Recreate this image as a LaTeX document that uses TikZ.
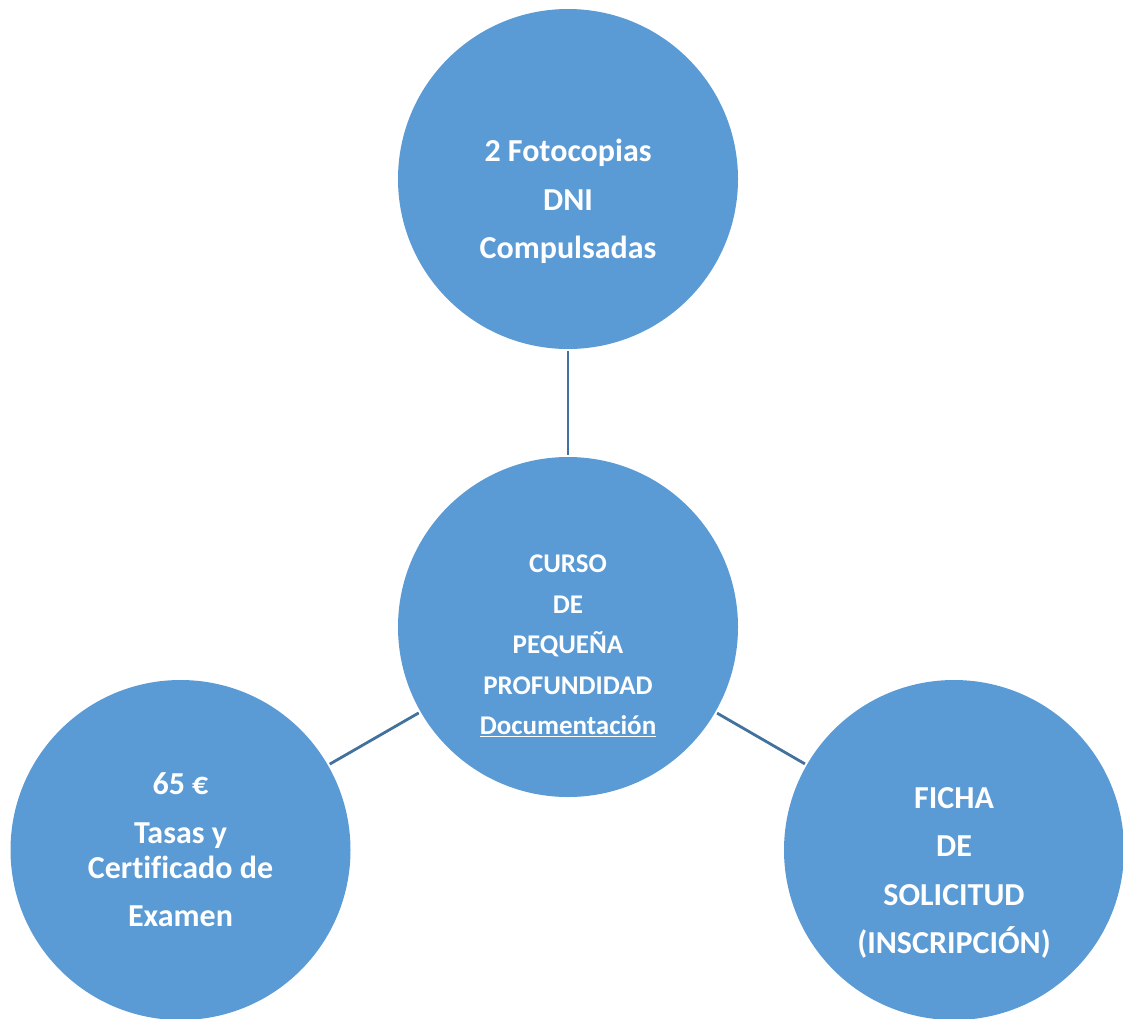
\documentclass[tikz,border=0pt]{standalone}
\usepackage{fontspec}
\setmainfont{Carlito}[Ligatures=CommonOff]
\usetikzlibrary{positioning}
\definecolor{bubblefill}{HTML}{5B9BD5}
\definecolor{linkblue}{HTML}{41719C}
\tikzset{bubble/.style={shape=circle, fill=bubblefill, inner sep=0pt,
    minimum size=340pt}}
\tikzset{bubbletext/.style={text=white, align=center,
    font=\bfseries\fontsize{32}{48.5}\selectfont}}
\tikzset{link/.style={draw=linkblue, line width=2.8pt, shorten <=2pt,
    shorten >=2pt}}

\begin{document}
\begin{tikzpicture}[x=1pt, y=1pt]
    \clip (0,0) rectangle (1123,-1018);
    \useasboundingbox (0,0) rectangle (1123,-1018);
    \node[bubble] (curso) at (568,-627) {};
    \node[bubble] (dni) at (568,-179) {};
    \node[bubble] (tasas) at (180.5,-850) {};
    \node[bubble] (ficha) at (954,-850) {};
    \path (curso) edge[link] (dni);
    \path (curso) edge[link] (tasas);
    \path (curso) edge[link] (ficha);
    \node[bubbletext, font=\bfseries\fontsize{27}{40.5}\selectfont]
      (cursotext) at ([yshift=-19pt]curso.center)
      {CURSO\\DE\\PEQUEÑA\\PROFUNDIDAD\\\underline{Documentación}};
    \node[bubbletext] (dnitext) at ([yshift=-22.5pt]dni.center)
      {2 Fotocopias\\DNI\\Compulsadas};
    \node[bubbletext] (tasastext) at (tasas.center)
      {65 €\\Tasas y\\[-13.5pt]Certificado de\\Examen};
    \node[bubbletext] (fichatext) at ([yshift=-23pt]ficha.center)
      {FICHA\\DE\\SOLICITUD\\(INSCRIPCIÓN)};
\end{tikzpicture}
\end{document}
